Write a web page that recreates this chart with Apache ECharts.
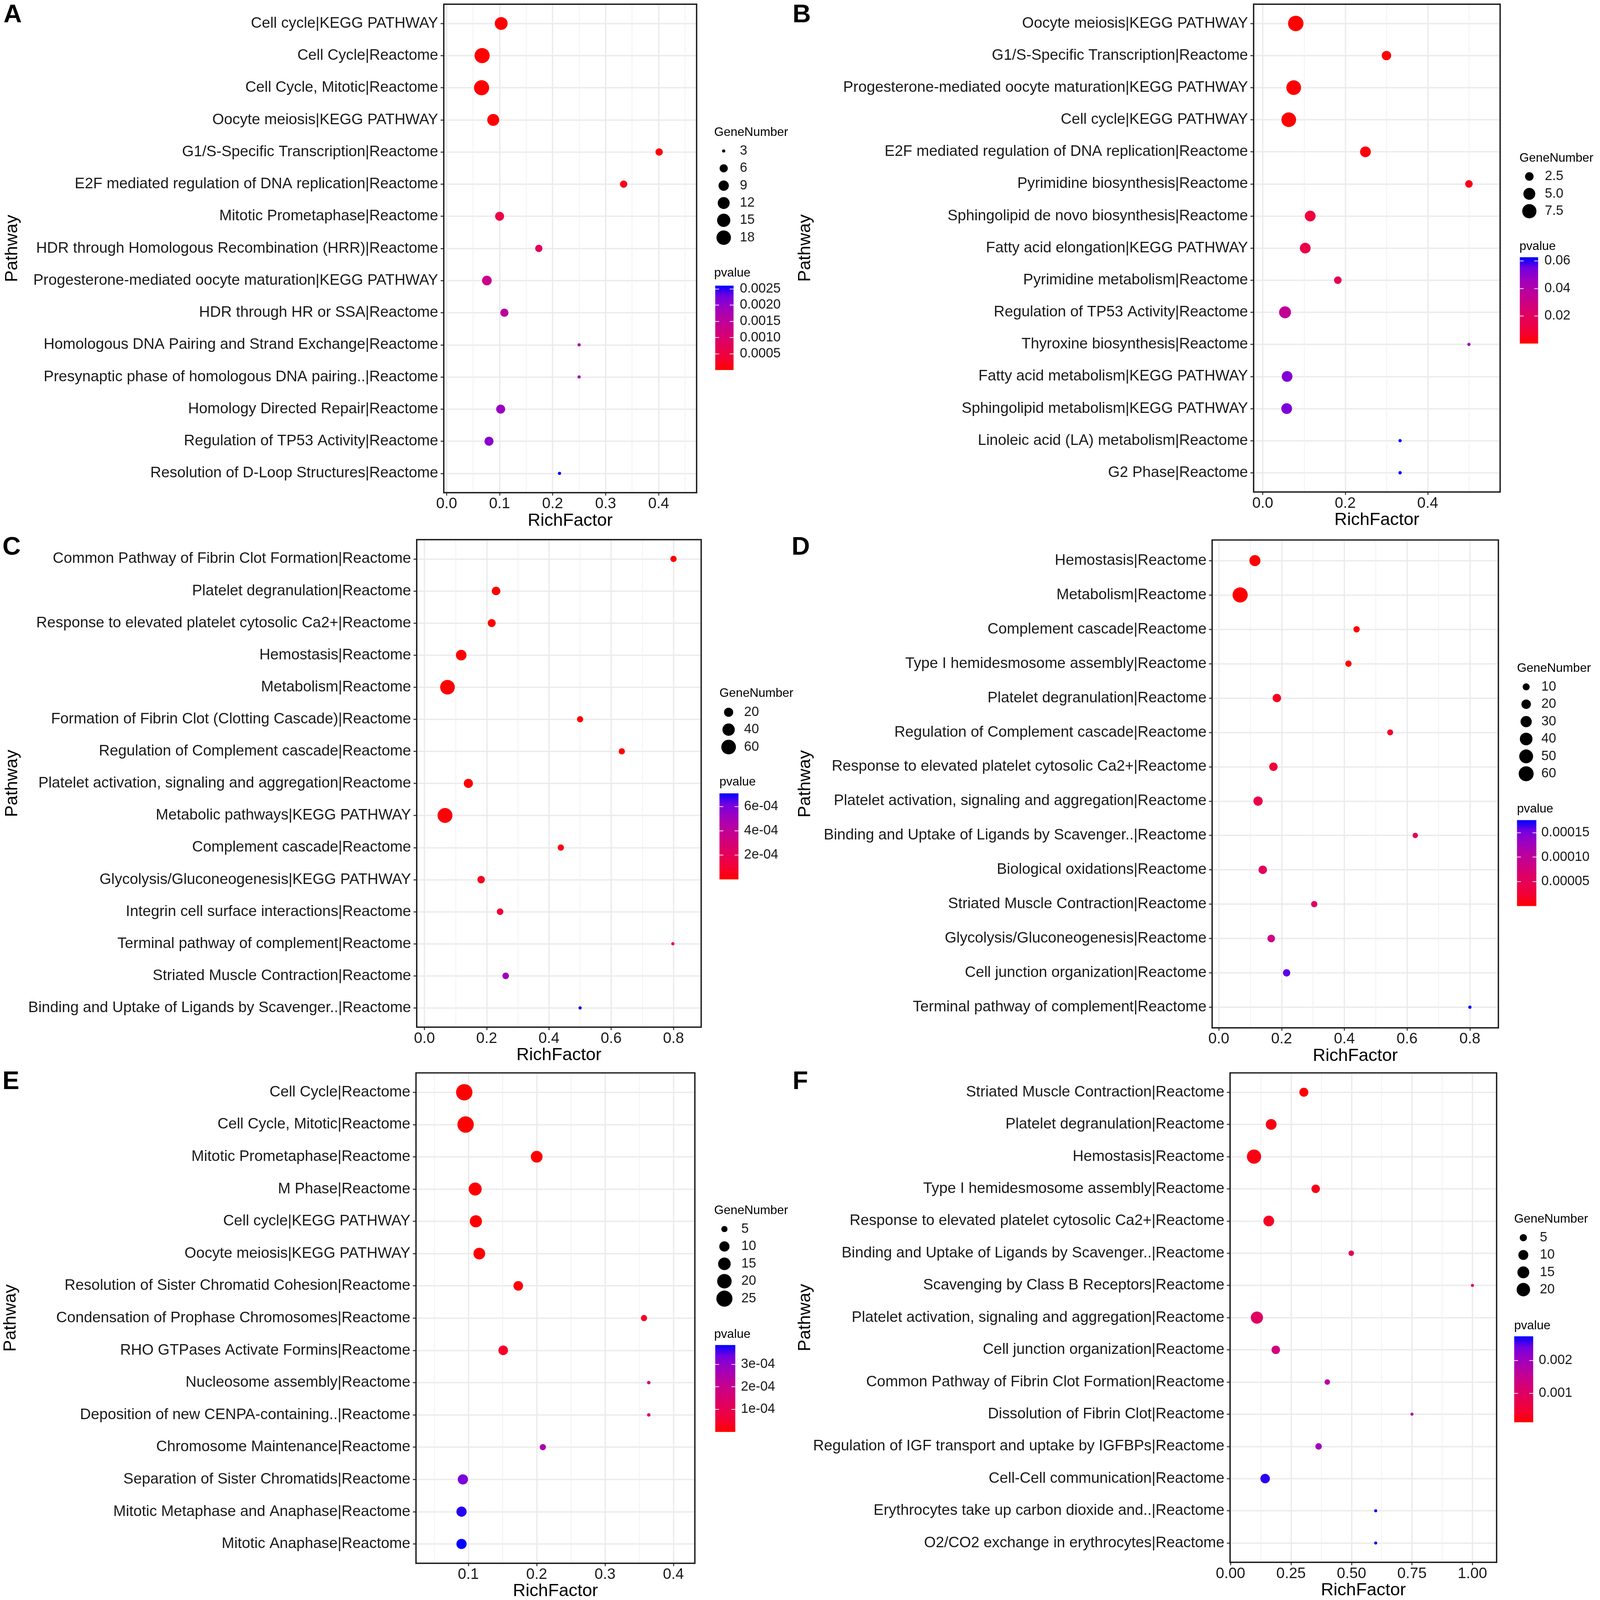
<!DOCTYPE html>
<html>
<head>
<meta charset="utf-8">
<script src="https://cdn.jsdelivr.net/npm/echarts@6/dist/echarts.min.js"></script>
<style>
  html, body { margin: 0; padding: 0; background: #fff; overflow: hidden; }
  #box { width: 4550px; height: 4969px; }
</style>
</head>
<body>
<div id="box"></div>
<script>
// ---------- data, panel A ----------
var namesA = ['Cell cycle|KEGG PATHWAY', 'Cell Cycle|Reactome', 'Cell Cycle, Mitotic|Reactome',
  'Oocyte meiosis|KEGG PATHWAY', 'G1/S-Specific Transcription|Reactome',
  'E2F mediated regulation of DNA replication|Reactome', 'Mitotic Prometaphase|Reactome',
  'HDR through Homologous Recombination (HRR)|Reactome', 'Progesterone-mediated oocyte maturation|KEGG PATHWAY',
  'HDR through HR or SSA|Reactome', 'Homologous DNA Pairing and Strand Exchange|Reactome',
  'Presynaptic phase of homologous DNA pairing..|Reactome', 'Homology Directed Repair|Reactome',
  'Regulation of TP53 Activity|Reactome', 'Resolution of D-Loop Structures|Reactome'];
var richA = [0.103, 0.067, 0.066, 0.088, 0.401, 0.334, 0.100, 0.174, 0.076, 0.109, 0.250, 0.250, 0.102, 0.080, 0.213];
var genesA = [14, 20, 20, 12, 5, 5, 7, 5, 8, 6, 3, 3, 7, 7, 3];
var pA = [0.000001, 0.000002, 0.000004, 0.00002, 0.00006, 0.00015, 0.00052, 0.00078, 0.0013, 0.00156, 0.0018, 0.00182, 0.00195, 0.00208, 0.0026];
var xTicksA = [0, 0.1, 0.2, 0.3, 0.4];
var sizeBreaksA = [3, 6, 9, 12, 15, 18];
var pBreaksA = [0.0005, 0.001, 0.0015, 0.002, 0.0025];

// ---------- panel B ----------
var namesB = ['Oocyte meiosis|KEGG PATHWAY', 'G1/S-Specific Transcription|Reactome',
  'Progesterone-mediated oocyte maturation|KEGG PATHWAY', 'Cell cycle|KEGG PATHWAY',
  'E2F mediated regulation of DNA replication|Reactome', 'Pyrimidine biosynthesis|Reactome',
  'Sphingolipid de novo biosynthesis|Reactome', 'Fatty acid elongation|KEGG PATHWAY',
  'Pyrimidine metabolism|Reactome', 'Regulation of TP53 Activity|Reactome', 'Thyroxine biosynthesis|Reactome',
  'Fatty acid metabolism|KEGG PATHWAY', 'Sphingolipid metabolism|KEGG PATHWAY',
  'Linoleic acid (LA) metabolism|Reactome', 'G2 Phase|Reactome'];
var richB = [0.080, 0.300, 0.075, 0.063, 0.249, 0.500, 0.115, 0.103, 0.182, 0.054, 0.500, 0.059, 0.058, 0.333, 0.333];
var genesB = [9, 3, 8, 8, 4, 2, 4, 4, 2, 5, 1, 4, 4, 1, 1];
var pB = [0.00002, 0.0001, 0.0002, 0.0004, 0.002, 0.004, 0.0106, 0.0138, 0.0175, 0.0344, 0.0438, 0.052, 0.0526, 0.0626, 0.0626];
var xTicksB = [0, 0.2, 0.4];
var sizeBreaksB = [2.5, 5, 7.5];
var pBreaksB = [0.02, 0.04, 0.06];

// ---------- panel C ----------
var namesC = ['Common Pathway of Fibrin Clot Formation|Reactome', 'Platelet degranulation|Reactome',
  'Response to elevated platelet cytosolic Ca2+|Reactome', 'Hemostasis|Reactome', 'Metabolism|Reactome',
  'Formation of Fibrin Clot (Clotting Cascade)|Reactome', 'Regulation of Complement cascade|Reactome',
  'Platelet activation, signaling and aggregation|Reactome', 'Metabolic pathways|KEGG PATHWAY',
  'Complement cascade|Reactome', 'Glycolysis/Gluconeogenesis|KEGG PATHWAY',
  'Integrin cell surface interactions|Reactome', 'Terminal pathway of complement|Reactome',
  'Striated Muscle Contraction|Reactome', 'Binding and Uptake of Ligands by Scavenger..|Reactome'];
var richC = [0.800, 0.230, 0.216, 0.118, 0.074, 0.500, 0.634, 0.141, 0.066, 0.438, 0.182, 0.243, 0.798, 0.261, 0.500];
var genesC = [9, 17, 15, 28, 60, 9, 9, 20, 62, 9, 13, 10, 5, 10, 5];
var pC = [1e-7, 2e-7, 3e-7, 5e-7, 8e-7, 2e-6, 5e-6, 1e-5, 1.5e-5, 3e-5, 5e-5, 1e-4, 1.4e-4, 5.1e-4, 7.07e-4];
var xTicksC = [0, 0.2, 0.4, 0.6, 0.8];
var sizeBreaksC = [20, 40, 60];
var pBreaksC = [2e-4, 4e-4, 6e-4];

// ---------- panel D ----------
var namesD = ['Hemostasis|Reactome', 'Metabolism|Reactome', 'Complement cascade|Reactome',
  'Type I hemidesmosome assembly|Reactome', 'Platelet degranulation|Reactome',
  'Regulation of Complement cascade|Reactome', 'Response to elevated platelet cytosolic Ca2+|Reactome',
  'Platelet activation, signaling and aggregation|Reactome', 'Binding and Uptake of Ligands by Scavenger..|Reactome',
  'Biological oxidations|Reactome', 'Striated Muscle Contraction|Reactome', 'Glycolysis/Gluconeogenesis|Reactome',
  'Cell junction organization|Reactome', 'Terminal pathway of complement|Reactome'];
var richD = [0.115, 0.068, 0.439, 0.413, 0.185, 0.546, 0.174, 0.125, 0.626, 0.140, 0.304, 0.167, 0.216, 0.800];
var genesD = [29, 62, 8, 8, 15, 7, 15, 19, 6, 15, 8, 12, 11, 4];
var pD = [1e-8, 1e-7, 1e-6, 3e-6, 1.4e-5, 1.75e-5, 2.6e-5, 3.9e-5, 4.9e-5, 5.3e-5, 5.8e-5, 8.2e-5, 1.58e-4, 1.755e-4];
var xTicksD = [0, 0.2, 0.4, 0.6, 0.8];
var sizeBreaksD = [10, 20, 30, 40, 50, 60];
var pBreaksD = [5e-5, 1e-4, 1.5e-4];

// ---------- panel E ----------
var namesE = ['Cell Cycle|Reactome', 'Cell Cycle, Mitotic|Reactome', 'Mitotic Prometaphase|Reactome',
  'M Phase|Reactome', 'Cell cycle|KEGG PATHWAY', 'Oocyte meiosis|KEGG PATHWAY',
  'Resolution of Sister Chromatid Cohesion|Reactome', 'Condensation of Prophase Chromosomes|Reactome',
  'RHO GTPases Activate Formins|Reactome', 'Nucleosome assembly|Reactome',
  'Deposition of new CENPA-containing..|Reactome', 'Chromosome Maintenance|Reactome',
  'Separation of Sister Chromatids|Reactome', 'Mitotic Metaphase and Anaphase|Reactome',
  'Mitotic Anaphase|Reactome'];
var richE = [0.094, 0.096, 0.200, 0.110, 0.111, 0.116, 0.173, 0.357, 0.151, 0.364, 0.364, 0.209, 0.092, 0.090, 0.090];
var genesE = [26, 26, 13, 16, 14, 13, 9, 5, 9, 4, 4, 5, 10, 10, 10];
var pE = [1e-8, 2e-8, 1e-7, 2e-7, 5e-7, 1e-6, 5e-6, 3.8e-5, 4.2e-5, 1.46e-4, 1.47e-4, 2.54e-4, 3.27e-4, 3.7e-4, 3.85e-4];
var xTicksE = [0.1, 0.2, 0.3, 0.4];
var sizeBreaksE = [5, 10, 15, 20, 25];
var pBreaksE = [1e-4, 2e-4, 3e-4];

// ---------- panel F ----------
var namesF = ['Striated Muscle Contraction|Reactome', 'Platelet degranulation|Reactome', 'Hemostasis|Reactome',
  'Type I hemidesmosome assembly|Reactome', 'Response to elevated platelet cytosolic Ca2+|Reactome',
  'Binding and Uptake of Ligands by Scavenger..|Reactome', 'Scavenging by Class B Receptors|Reactome',
  'Platelet activation, signaling and aggregation|Reactome', 'Cell junction organization|Reactome',
  'Common Pathway of Fibrin Clot Formation|Reactome', 'Dissolution of Fibrin Clot|Reactome',
  'Regulation of IGF transport and uptake by IGFBPs|Reactome', 'Cell-Cell communication|Reactome',
  'Erythrocytes take up carbon dioxide and..|Reactome', 'O2/CO2 exchange in erythrocytes|Reactome'];
var richF = [0.303, 0.168, 0.097, 0.352, 0.158, 0.499, 1.000, 0.109, 0.187, 0.400, 0.750, 0.364, 0.143, 0.600, 0.600];
var genesF = [8, 12, 23, 7, 12, 3, 2, 16, 7, 3, 2, 4, 9, 2, 2];
var pF = [0.00012, 0.000225, 0.00025, 0.0003, 0.00036, 0.00078, 0.0009, 0.000985, 0.0013, 0.00169, 0.00174, 0.002, 0.00261, 0.00274, 0.00274];
var xTicksF = [0, 0.25, 0.5, 0.75, 1];
var sizeBreaksF = [5, 10, 15, 20];
var pBreaksF = [0.001, 0.002];

// red -> blue, interpolated like ggplot (Lab)
var RAMP = ['#FF0000', '#F40031', '#E8004F', '#DA006C', '#CA0089', '#B500A5', '#9A00C3', '#7300E0', '#0000FF'];
var FONT = 'Liberation Sans, Arial, Helvetica, sans-serif';

// the layout below is measured on a 4550 x 4969 figure; fit it to the actual window
var W = window.innerWidth || 4550, H = window.innerHeight || 4969;
var sx = W / 4550, sy = H / 4969, sf = sx, sd = (sx + sy) / 2;
var box = document.getElementById('box');
box.style.width = W + 'px';
box.style.height = H + 'px';

function sci(v) {
  var s = v.toExponential(0).split('e');
  var e = parseInt(s[1], 10);
  return s[0] + 'e' + (e < 0 ? '-' : '+') + (Math.abs(e) < 10 ? '0' : '') + Math.abs(e);
}
function fixed(d) { return function (v) { return v.toFixed(d); }; }

// ggplot-like point size: area scale, range 1..6
function dotSize(v, lo, hi, k) {
  var t = hi > lo ? (v - lo) / (hi - lo) : 0;
  return sd * k * (2.845 * (1 + 5 * Math.sqrt(Math.max(t, 0))) + 0.945);
}

// layout (reference pixels) for each panel
var panels = [
  { letter: 'A', names: namesA, rich: richA, genes: genesA, p: pA, xTicks: xTicksA, sizeBreaks: sizeBreaksA, pBreaks: pBreaksA,
    box: [1262, 13, 719, 1517], xMin: -0.0053, xMax: 0.4717, xFmt: fixed(1), yGap: 1202, k: 2.5,
    letterPos: [10, 8], geneTitle: [2031, 392], sizeGrid: [2040, 442, 36, 323], sizeMargin: 28, sizeFmt: fixed(0),
    pTitle: [2031, 829], bar: [2034, 887, 52, 262], barMargin: 18, pFmt: fixed(4) },
  { letter: 'B', names: namesB, rich: richB, genes: genesB, p: pB, xTicks: xTicksB, sizeBreaks: sizeBreaksB, pBreaks: pBreaksB,
    box: [3565, 13, 701, 1515], xMin: -0.0222, xMax: 0.5757, xFmt: fixed(1), yGap: 1250, k: 2.55,
    letterPos: [2254, 8], geneTitle: [4321, 472], sizeGrid: [4331, 521, 36, 162], sizeMargin: 26, sizeFmt: fixed(1),
    pTitle: [4321, 747], bar: [4322, 799, 52, 268], barMargin: 18, pFmt: fixed(2) },
  { letter: 'C', names: namesC, rich: richC, genes: genesC, p: pC, xTicks: xTicksC, sizeBreaks: sizeBreaksC, pBreaks: pBreaksC,
    box: [1185, 1676, 809, 1514], xMin: -0.0249, xMax: 0.889, xFmt: fixed(1), yGap: 1125, k: 2.45,
    letterPos: [7, 1662], geneTitle: [2046, 2134], sizeGrid: [2054, 2185, 36, 162], sizeMargin: 26, sizeFmt: fixed(0),
    pTitle: [2046, 2410], bar: [2046, 2464, 54, 267], barMargin: 16, pFmt: sci },
  { letter: 'D', names: namesD, rich: richD, genes: genesD, p: pD, xTicks: xTicksD, sizeBreaks: sizeBreaksD, pBreaks: pBreaksD,
    box: [3447, 1677, 814, 1515], xMin: -0.0213, xMax: 0.8908, xFmt: fixed(1), yGap: 1132, k: 2.5,
    letterPos: [2251, 1662], geneTitle: [4314, 2057], sizeGrid: [4322, 2106, 36, 324], sizeMargin: 25, sizeFmt: fixed(0),
    pTitle: [4314, 2493], bar: [4314, 2547, 55, 267], barMargin: 14, pFmt: fixed(5) },
  { letter: 'E', names: namesE, rich: richE, genes: genesE, p: pE, xTicks: xTicksE, sizeBreaks: sizeBreaksE, pBreaks: pBreaksE,
    box: [1183, 3332, 793, 1523], xMin: 0.0234, xMax: 0.4314, xFmt: fixed(1), yGap: 1127, k: 2.7,
    letterPos: [7, 3321], geneTitle: [2031, 3741], sizeGrid: [2042, 3790, 36, 270], sizeMargin: 30, sizeFmt: fixed(0),
    pTitle: [2031, 4125], bar: [2034, 4177, 57, 270], barMargin: 16, pFmt: sci },
  { letter: 'F', names: namesF, rich: richF, genes: genesF, p: pF, xTicks: xTicksF, sizeBreaks: sizeBreaksF, pBreaks: pBreaksF,
    box: [3498, 3332, 758, 1520], xMin: -0.002, xMax: 1.10, xFmt: fixed(2), yGap: 1183, k: 2.35,
    letterPos: [2254, 3321], geneTitle: [4306, 3767], sizeGrid: [4314, 3817, 36, 215], sizeMargin: 29, sizeFmt: fixed(0),
    pTitle: [4306, 4098], bar: [4306, 4150, 54, 267], barMargin: 16, pFmt: fixed(3) }
];

var option = {
  backgroundColor: '#ffffff',
  animation: false,
  textStyle: { fontFamily: FONT },
  title: [], grid: [], xAxis: [], yAxis: [], visualMap: [], series: []
};

function rect(r) { return { left: r[0] * sx, top: r[1] * sy, width: r[2] * sx, height: r[3] * sy }; }

function addText(text, pos, size, bold) {
  option.title.push({
    text: text, left: pos[0] * sx, top: pos[1] * sy, padding: 0,
    textStyle: { fontSize: size * sf, fontWeight: bold ? 'bold' : 'normal', color: '#000', fontFamily: FONT }
  });
}

var tickStyle = { color: '#333333', width: 3 * sd };
var gridLine = { color: '#EBEBEB', width: 4 * sd };

panels.forEach(function (P) {
  var n = P.names.length;
  var lo = Math.min.apply(null, P.genes), hi = Math.max.apply(null, P.genes);
  var pLo = Math.min.apply(null, P.p), pHi = Math.max.apply(null, P.p);
  var step = P.xTicks[1] - P.xTicks[0];
  var rows = P.names.map(function (_, i) { return i + 1; });

  addText(P.letter, P.letterPos, 72, true);
  addText('GeneNumber', P.geneTitle, 35, false);
  addText('pvalue', P.pTitle, 35, false);

  // main dot plot
  var g = option.grid.length;
  option.grid.push(Object.assign(rect(P.box), {
    show: true, z: 3, backgroundColor: 'transparent', borderColor: '#1a1a1a', borderWidth: 4 * sd,
    outerBoundsMode: 'none', containLabel: false
  }));
  option.xAxis.push({
    type: 'value', gridIndex: g, min: P.xMin, max: P.xMax, minInterval: step, maxInterval: step,
    name: 'RichFactor', nameLocation: 'middle', nameGap: 60 * sy, nameMoveOverlap: false,
    nameTextStyle: { fontSize: 50 * sf, color: '#000', fontFamily: FONT },
    axisLine: { show: false, onZero: false },
    axisTick: { show: true, length: 9 * sy, lineStyle: tickStyle, customValues: P.xTicks },
    axisLabel: { customValues: P.xTicks, fontSize: 43 * sf, color: '#1a1a1a', margin: 12 * sy, formatter: P.xFmt, fontFamily: FONT },
    splitLine: { show: true, lineStyle: gridLine },
    minorTick: { show: false, splitNumber: 2 },
    minorSplitLine: { show: true, lineStyle: { color: '#F0F0F0', width: 2 * sd } }
  });
  option.yAxis.push({
    type: 'value', gridIndex: g, min: 0.4, max: n + 0.6, inverse: true, minInterval: 1, maxInterval: 1,
    name: 'Pathway', nameLocation: 'middle', nameGap: P.yGap * sx, nameMoveOverlap: false,
    nameTextStyle: { fontSize: 50 * sf, color: '#000', fontFamily: FONT },
    axisLine: { show: false, onZero: false },
    axisTick: { show: true, length: 9 * sx, lineStyle: tickStyle, customValues: rows },
    axisLabel: {
      customValues: rows, fontSize: 43 * sf, color: '#1a1a1a', margin: 16 * sx, fontFamily: FONT,
      formatter: function (v) { return P.names[Math.round(v) - 1] || ''; }
    },
    splitLine: { show: true, lineStyle: gridLine }
  });
  var si = option.series.length;
  option.series.push({
    type: 'scatter', xAxisIndex: option.xAxis.length - 1, yAxisIndex: option.yAxis.length - 1,
    data: P.rich.map(function (r, i) { return [r, i + 1, P.genes[i], P.p[i]]; }),
    symbolSize: function (d) { return dotSize(d[2], lo, hi, P.k); },
    itemStyle: { opacity: 1 }, silent: true, z: 2
  });
  option.visualMap.push({
    type: 'continuous', show: false, seriesIndex: si, dimension: 3, min: pLo, max: pHi,
    inRange: { color: RAMP }
  });

  // GeneNumber key
  var gs = option.grid.length;
  option.grid.push(Object.assign(rect(P.sizeGrid), { outerBoundsMode: 'none', containLabel: false }));
  option.xAxis.push({ type: 'value', gridIndex: gs, min: -1, max: 1, show: false });
  option.yAxis.push({
    type: 'category', gridIndex: gs, inverse: true, position: 'right',
    data: P.sizeBreaks.map(P.sizeFmt),
    axisLine: { show: false }, axisTick: { show: false }, splitLine: { show: false },
    axisLabel: { fontSize: 38 * sf, color: '#1a1a1a', margin: P.sizeMargin * sx, fontFamily: FONT }
  });
  option.series.push({
    type: 'scatter', xAxisIndex: option.xAxis.length - 1, yAxisIndex: option.yAxis.length - 1,
    data: P.sizeBreaks.map(function (b, i) { return [0, i, b]; }),
    symbolSize: function (d) { return dotSize(d[2], lo, hi, P.k); },
    itemStyle: { color: '#000', opacity: 1 }, silent: true
  });

  // pvalue colour bar
  var gc = option.grid.length;
  var stops = RAMP.slice().reverse().map(function (c, i, arr) { return { offset: i / (arr.length - 1), color: c }; });
  option.grid.push(Object.assign(rect(P.bar), {
    show: true, borderWidth: 0, backgroundColor: new echarts.graphic.LinearGradient(0, 0, 0, 1, stops),
    outerBoundsMode: 'none', containLabel: false
  }));
  option.xAxis.push({ type: 'value', gridIndex: gc, min: 0, max: 1, show: false });
  ['right', 'left'].forEach(function (side) {
    option.yAxis.push({
      type: 'value', gridIndex: gc, min: pLo, max: pHi, position: side, z: 4,
      axisLine: { show: false, onZero: false }, splitLine: { show: false },
      axisTick: { show: true, inside: true, length: 11 * sx, customValues: P.pBreaks, lineStyle: { color: '#ffffff', width: 2 * sd } },
      axisLabel: {
        show: side === 'right', customValues: P.pBreaks, fontSize: 38 * sf, color: '#1a1a1a',
        margin: P.barMargin * sx, formatter: P.pFmt, fontFamily: FONT
      }
    });
  });
});

var myChart = echarts.init(box, null, { renderer: 'canvas', width: W, height: H });
myChart.setOption(option);
</script>
</body>
</html>
